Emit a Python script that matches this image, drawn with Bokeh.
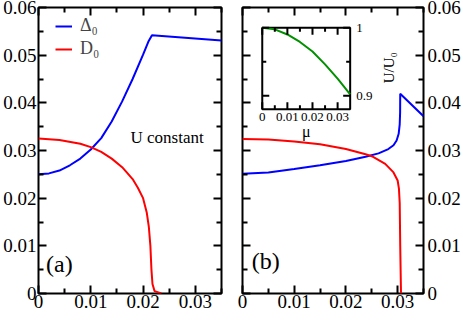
import numpy as np
from bokeh.plotting import figure
from bokeh.models import (Range1d, LinearAxis, FixedTicker, CustomJSTickFormatter,
                          Legend, LegendItem, Label, Row)
from bokeh.embed import file_html
from bokeh.resources import INLINE
from bokeh.core.properties import value

# ---------------- data ----------------
# panel (a): U constant
mu_a_delta = [0, 0.002, 0.004, 0.006, 0.008, 0.010, 0.012, 0.014, 0.016, 0.018,
              0.020, 0.021, 0.0217, 0.035]
delta_a = [0.0250, 0.0252, 0.0258, 0.0269, 0.0283, 0.0302, 0.0326, 0.0361, 0.0403,
           0.0450, 0.0501, 0.0528, 0.0542, 0.0531]
mu_a_d = [0, 0.004, 0.008, 0.010, 0.012, 0.014, 0.016, 0.018, 0.019, 0.020, 0.0207,
          0.0211, 0.0214, 0.0216, 0.0218, 0.0222, 0.0235]
d_a = [0.0325, 0.0322, 0.0314, 0.0307, 0.0297, 0.0283, 0.0265, 0.0240, 0.0222, 0.0200,
       0.0170, 0.0140, 0.0100, 0.0050, 0.0020, 0.0005, 0.0]

# panel (b)
mu_b_delta = [0, 0.005, 0.010, 0.015, 0.020, 0.0238, 0.0263, 0.0282, 0.0292, 0.0298,
              0.0302, 0.0304, 0.03048, 0.0305, 0.035]
delta_b = [0.0251, 0.0254, 0.0261, 0.0269, 0.0278, 0.0287, 0.0294, 0.0303, 0.0311,
           0.0321, 0.0335, 0.0355, 0.0380, 0.0419, 0.0372]
mu_b_d = [0, 0.005, 0.010, 0.015, 0.020, 0.0238, 0.025, 0.0276, 0.0292, 0.0300,
          0.03025, 0.0304, 0.0305, 0.03065]
d_b = [0.0324, 0.0323, 0.0319, 0.0313, 0.0303, 0.0292, 0.0288, 0.0272, 0.0254, 0.0237,
       0.0220, 0.0190, 0.0100, 0.0]

# inset of panel (b): U/U0 versus mu
mu_inset = [0, 0.005, 0.010, 0.015, 0.020, 0.025, 0.030, 0.035]
u_ratio = [1.0, 0.9975, 0.990, 0.979, 0.965, 0.946, 0.925, 0.902]

# ticks
x_major = [0, 0.01, 0.02, 0.03]
x_minor = [0.005, 0.015, 0.025, 0.035]
y_major = [0, 0.01, 0.02, 0.03, 0.04, 0.05, 0.06]
y_minor = [0.005, 0.015, 0.025, 0.035, 0.045, 0.055]
ix_major = [0, 0.01, 0.02, 0.03]
ix_minor = [0.005, 0.015, 0.025]
ix_labels = ["0", "0.01", "0.02", "0.03"]
iy_major = [0.9, 1.0]
iy_minor = [0.95]
iy_labels = ["0.9", "1"]

FONT = "Liberation Serif"
BLUE, RED, GREEN = "#0000ff", "#ff0000", "#009000"
H = 330

fmt = CustomJSTickFormatter(code="return String(+tick.toFixed(3));")
blank = CustomJSTickFormatter(code="return '';")


def style_axis(ax, major, minor, show, standoff):
    ax.ticker = FixedTicker(ticks=major, minor_ticks=minor)
    ax.formatter = fmt if show else blank
    ax.axis_line_color = None
    ax.major_tick_in = 8
    ax.major_tick_out = 0
    ax.minor_tick_in = 5
    ax.minor_tick_out = 0
    ax.major_tick_line_width = 2
    ax.minor_tick_line_width = 2
    ax.major_tick_line_color = "black"
    ax.minor_tick_line_color = "black"
    ax.major_label_text_font = FONT
    ax.major_label_text_font_size = "19px" if show else "0px"
    ax.major_label_text_color = "black"
    ax.major_label_standoff = standoff if show else 0
    return ax


def make_fig(width, left, right, label_side):
    p = figure(width=width, height=H, x_range=Range1d(0, 0.035), y_range=Range1d(0, 0.06),
               output_backend="svg", toolbar_location=None,
               x_axis_location=None, y_axis_location=None,
               min_border_left=left, min_border_right=right,
               min_border_top=7, min_border_bottom=37)
    p.grid.visible = False
    p.outline_line_color = "black"
    p.outline_line_width = 2
    p.outline_line_alpha = 1
    p.background_fill_color = "white"
    p.border_fill_color = "white"
    p.add_layout(style_axis(LinearAxis(), x_major, x_minor, True, 1), "below")
    p.add_layout(style_axis(LinearAxis(), x_major, x_minor, False, 0), "above")
    p.add_layout(style_axis(LinearAxis(), y_major, y_minor, label_side == "left", 2), "left")
    p.add_layout(style_axis(LinearAxis(), y_major, y_minor, label_side == "right", 4), "right")
    return p


# ---------------- panel (a) ----------------
p1 = make_fig(232, 37, 11, "left")
ra1 = p1.line(mu_a_delta, delta_a, line_color=BLUE, line_width=2)
ra2 = p1.line(mu_a_d, d_a, line_color=RED, line_width=2)

leg = Legend(items=[LegendItem(label=value("Δ₀"), renderers=[ra1]),
                    LegendItem(label=value("D₀"), renderers=[ra2])],
             location=(17, 234), orientation="vertical", padding=0, margin=0, spacing=2,
             glyph_width=17, glyph_height=20, label_height=20, label_standoff=8,
             label_text_font=FONT, label_text_font_size="18px",
             background_fill_alpha=0, border_line_color=None)
p1.add_layout(leg)

p1.add_layout(Label(x=0.0246, y=0.0328, text="U constant", text_align="center",
                    text_baseline="middle", text_font=FONT, text_font_size="17px",
                    text_color="black"))
p1.add_layout(Label(x=0.00145, y=0.0062, text="(a)", text_align="left",
                    text_baseline="middle", text_font=FONT, text_font_size="24px",
                    text_color="black"))
p1.add_layout(Label(x=0.0175, y=-0.0054, text="μ", text_align="center",
                    text_baseline="alphabetic", text_font=FONT, text_font_size="20px",
                    text_color="black"))

# ---------------- panel (b) ----------------
p2 = make_fig(231, 10, 37, "right")
p2.line(mu_b_delta, delta_b, line_color=BLUE, line_width=2)
p2.line(mu_b_d, d_b, line_color=RED, line_width=2)

p2.add_layout(Label(x=0.0018, y=0.0068, text="(b)", text_align="left",
                    text_baseline="middle", text_font=FONT, text_font_size="24px",
                    text_color="black"))
p2.add_layout(Label(x=0.0175, y=-0.0054, text="μ", text_align="center",
                    text_baseline="alphabetic", text_font=FONT, text_font_size="20px",
                    text_color="black"))

# inset (sub-coordinate system inside panel b)
ix_src = Range1d(0, 0.035)
iy_src = Range1d(0.88, 1.0)
ins = p2.subplot(x_source=ix_src, y_source=iy_src,
                 x_target=Range1d(0.00382, 0.02082), y_target=Range1d(0.03864, 0.05577))
ins.quad(left=[ix_src.start], right=[ix_src.end], bottom=[iy_src.start], top=[iy_src.end],
         fill_color="white", line_color="black", line_width=2)
ins.line(mu_inset, u_ratio, line_color=GREEN, line_width=2)


def inset_ticks(xs, ys, length, angle):
    ins.ray(x=xs, y=ys, length=length, length_units="screen", angle=angle,
            line_color="black", line_width=2)


for vals, ln in [(ix_major, 7), (ix_minor, 4)]:
    inset_ticks(vals, [iy_src.start] * len(vals), ln, np.pi / 2)
    inset_ticks(vals, [iy_src.end] * len(vals), ln, -np.pi / 2)
for vals, ln in [(iy_major, 7), (iy_minor, 4)]:
    inset_ticks([ix_src.start] * len(vals), vals, ln, 0)
    inset_ticks([ix_src.end] * len(vals), vals, ln, np.pi)

ins.text(x=ix_major, y=[iy_src.start] * len(ix_major), text=ix_labels,
         y_offset=4, text_align="center", text_baseline="top",
         text_font=value(FONT), text_font_size="13px", text_color="black")
ins.text(x=[ix_src.end] * len(iy_major), y=iy_major, text=iy_labels,
         x_offset=6, text_align="left", text_baseline="middle",
         text_font=value(FONT), text_font_size="13px", text_color="black")
ins.text(x=[(ix_src.start + ix_src.end) / 2], y=[iy_src.start], text=["μ"],
         y_offset=22, text_align="center", text_baseline="middle",
         text_font=value(FONT), text_font_size="16px", text_color="black")
ins.text(x=[ix_src.end], y=[(iy_src.start + iy_src.end) / 2 + 0.001], text=["U/U₀"],
         x_offset=39, angle=np.pi / 2, text_align="center", text_baseline="middle",
         text_font=value(FONT), text_font_size="15px", text_color="black")

layout = Row(children=[p1, p2], spacing=0)
open("out.html", "w").write(file_html(layout, INLINE))
